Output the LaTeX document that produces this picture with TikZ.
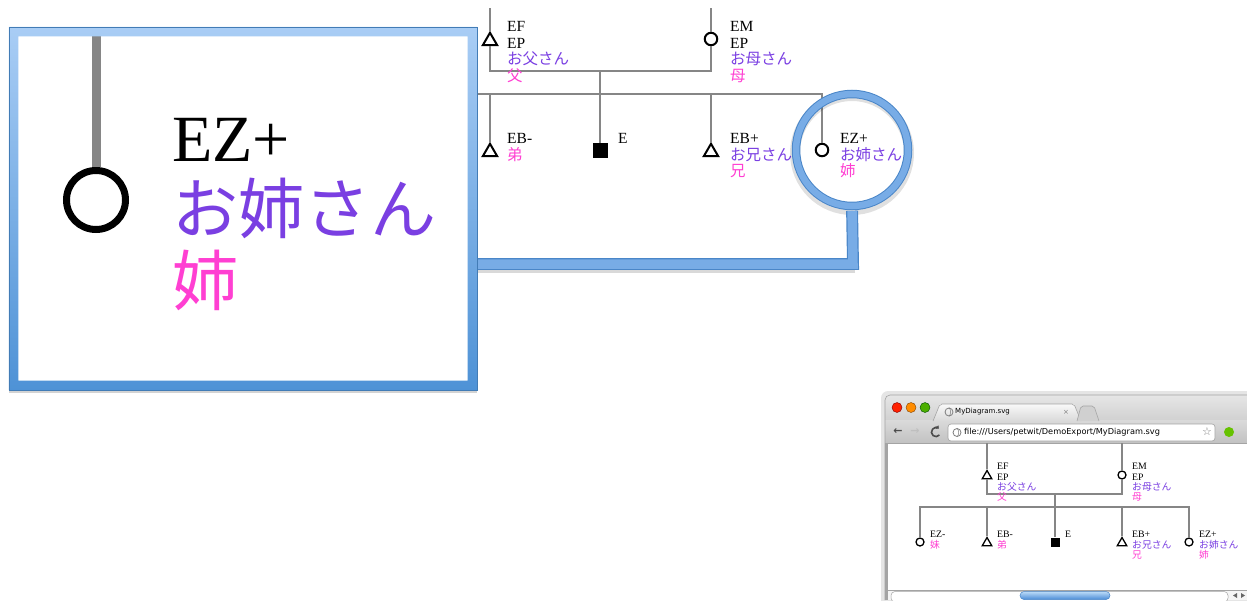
\documentclass[tikz,border=0pt]{standalone}
\usepackage{fontspec}
\setmainfont{Liberation Serif}
\newfontfamily\jp{Noto Sans CJK JP}
\newfontfamily\ui{DejaVu Sans}
\usetikzlibrary{arrows.meta, shapes.geometric, shadows}

\definecolor{kinGray}{HTML}{868686}
\definecolor{kanaPurple}{HTML}{7A3FE2}
\definecolor{kanjiPink}{HTML}{FF3FD2}
\definecolor{frameTop}{HTML}{A9CDF5}
\definecolor{frameBot}{HTML}{4E92D6}
\definecolor{lensEdge}{HTML}{4A86C8}
\definecolor{lensFill}{HTML}{78ACE6}
\definecolor{winTop}{HTML}{E6E6E6}
\definecolor{winMid}{HTML}{D0D0D0}
\definecolor{winBot}{HTML}{C2C2C2}
\definecolor{winLine}{HTML}{A4A4A4}
\definecolor{thumbTop}{HTML}{BBDBF8}
\definecolor{thumbBot}{HTML}{4A8BD6}

\newcommand\kana[1]{{\jp\color{kanaPurple}#1}}
\newcommand\kanji[1]{{\jp\color{kanjiPink}#1}}

\tikzset{
  kin/.style={draw=kinGray, line width=2.3},
  male/.style={regular polygon, regular polygon sides=3, draw=black, fill=white,
    line width=2, minimum size=16.5, inner sep=0},
  female/.style={circle, draw=black, fill=white, line width=2, minimum size=12.5, inner sep=0},
  ego/.style={rectangle, fill=black, minimum size=15, inner sep=0},
  lbl/.style={anchor=north west, inner sep=0, align=left, font=\fontsize{15.5}{16.7}\selectfont},
  % small copy inside the browser
  kinS/.style={draw=kinGray, line width=1.4},
  maleS/.style={male, line width=1.3, minimum size=11},
  femaleS/.style={female, line width=1.3, minimum size=8},
  egoS/.style={ego, minimum size=9},
  lblS/.style={lbl, font=\fontsize{9.8}{10.4}\selectfont},
  % magnified copy inside the callout
  kinL/.style={draw=kinGray, line width=9},
  femaleL/.style={female, line width=7, minimum size=59},
  lblL/.style={lbl, font=\fontsize{66}{72}\selectfont},
  % magnifier
  lens/.style={circle, minimum size=112, inner sep=0, draw=lensEdge, double=lensFill,
    double distance=6.5, line width=1},
  tube/.style={draw=lensEdge, double=lensFill, double distance=9.5, line width=1.2},
  callout/.style={rectangle, fill=white, minimum width=468, minimum height=363, inner sep=0,
    drop shadow={opacity=.35, shadow xshift=0pt, shadow yshift=-3pt}},
  % browser chrome
  uiTxt/.style={inner sep=0, font=\ui\fontsize{7}{8}\selectfont},
  urlTxt/.style={inner sep=0, anchor=west, font=\ui\fontsize{8.2}{9}\selectfont},
  globe/.style={circle, draw=gray, line width=.8, minimum size=8, inner sep=0},
}

\begin{document}
\begin{tikzpicture}[x=1pt, y=-1pt]
  \useasboundingbox (0,0) rectangle (1247,600);

  % family tree, normal size
  \coordinate (EFtop) at (490,8);
  \coordinate (EMtop) at (711,8);
  \coordinate (mar) at (600,71);
  \coordinate (sibL) at (400,94);
  \node[male]   (EF)  at (490,41) {};
  \node[female] (EM)  at (711,39) {};
  \node[male]   (EBm) at (490,152) {};
  \node[ego]    (E)   at (600,150.5) {};
  \node[male]   (EBp) at (711,152) {};
  \node[female] (EZp) at (822,150) {};

  \draw[kin] (EFtop) -- (EF);
  \draw[kin] (EMtop) -- (EM);
  \draw[kin] (EF) |- (mar) -| (EM);
  \draw[kin] (mar) -- (E);
  \draw[kin] (sibL) -| (EZp);
  \draw[kin] (EBm |- sibL) -- (EBm);
  \draw[kin] (EBp |- sibL) -- (EBp);

  \node[lbl] (EFlbl)  at (507,21) {EF\\EP\\\kana{お父さん}\\\kanji{父}};
  \node[lbl] (EMlbl)  at (730,21) {EM\\EP\\\kana{お母さん}\\\kanji{母}};
  \node[lbl] (EBmlbl) at (507,133) {EB-\\\kanji{弟}};
  \node[lbl] (Elbl)   at (618,133) {E};
  \node[lbl] (EBplbl) at (730,133) {EB+\\\kana{お兄さん}\\\kanji{兄}};
  \node[lbl] (EZplbl) at (840,133) {EZ+\\\kana{お姉さん}\\\kanji{姉}};

  % browser window
  \fill[black, opacity=.10, rounded corners=7] (881,391) rectangle (1260,610);
  \shade[top color=winTop, bottom color=winMid] (885,421) [rounded corners=5] |- (1260,395)
    [sharp corners] -- (1260,421) -- cycle;
  \shade[top color=winMid!80!white, bottom color=winBot] (885,420.5) rectangle (1260,443);
  \fill[winLine] (885,443) rectangle (888,600);
  \draw[winLine, line width=.6] (885,600) -- (885,400) arc[start angle=180, end angle=90, radius=5pt] -- (1260,395);
  \fill[white] (888,443) rectangle (1250,590);
  \draw[winLine, line width=.6] (888,443) -- (1250,443);

  % traffic lights
  \fill[red!75!orange, draw=red!50!black, line width=.4] (897,407.5) circle[radius=5pt];
  \fill[orange!90!yellow, draw=orange!50!black, line width=.4] (911,407.5) circle[radius=5pt];
  \fill[green!55!black!70!yellow, draw=green!30!black, line width=.4] (925,407.5) circle[radius=5pt];

  % tabs
  \shade[top color=white!95!gray, bottom color=winMid!80!white] (933,421) -- (940,404)
    -- (1074,404) -- (1081,421) -- cycle;
  \draw[winLine, line width=.6, rounded corners=2] (933,421) -- (940,404) -- (1074,404) -- (1081,421);
  \fill[winMid, draw=winLine, line width=.6, rounded corners=2] (1077,421) -- (1081,406)
    -- (1094,406) -- (1099,421);
  \node[globe] (tabIcon) at (949,412) {};
  \draw[gray, line width=.5] (tabIcon.north) to[bend left=40] (tabIcon.south);
  \node[uiTxt, anchor=west] (tabTxt) at (955,412) {MyDiagram.svg};
  \node[uiTxt, text=gray] (tabX) at (1066,412) {×};

  % toolbar
  \node[uiTxt, font=\ui\bfseries\fontsize{11}{11}\selectfont, text=black!70] (back) at (898,432) {←};
  \node[uiTxt, font=\ui\bfseries\fontsize{11}{11}\selectfont, text=black!25] (fwd) at (915,432) {→};
  \draw[black!70, line width=1.6, -{Triangle[length=2.6pt, width=4.5pt]}]
    (939.4,435) arc[start angle=-40, end angle=-310, radius=4.5pt];
  \node[rectangle, rounded corners=3, fill=white, draw=winLine, line width=.6,
    minimum width=267, minimum height=17, inner sep=0] (url) at (1081.5,432.5) {};
  \node[globe] (urlIcon) at (957,432.5) {};
  \draw[gray, line width=.5] (urlIcon.north) to[bend left=40] (urlIcon.south);
  \node[urlTxt] (urlTxt) at (964,432.5) {file:///Users/petwit/DemoExport/MyDiagram.svg};
  \node[uiTxt, font=\ui\fontsize{11}{11}\selectfont, text=gray] (star) at (1207,432) {☆};
  \fill[green!60!black!60!yellow] (1229,432) circle[radius=5pt];

  % scroll bar
  \fill[white!92!gray] (888,590) rectangle (1250,600);
  \draw[winLine, line width=.5] (888,590) -- (1250,590);
  \draw[winLine, fill=white, line width=.5, rounded corners=4] (891,591.5) rectangle (1228,602);
  \shade[top color=thumbTop, bottom color=thumbBot, draw=lensEdge, line width=.5, rounded corners=4]
    (1020,591.5) rectangle (1110,599.5);
  \fill[black!60] (1233,595.5) -- (1237,593) -- (1237,598) -- cycle;
  \fill[black!60] (1245,595.5) -- (1241,593) -- (1241,598) -- cycle;

  % family tree inside the browser
  \coordinate (bEFtop) at (987,443);
  \coordinate (bEMtop) at (1122,443);
  \coordinate (bmar) at (1055,494);
  \coordinate (bsib) at (1055,507);
  \node[maleS]   (bEF)  at (987,476) {};
  \node[femaleS] (bEM)  at (1122,475) {};
  \node[femaleS] (bEZm) at (920,542) {};
  \node[maleS]   (bEBm) at (987,543) {};
  \node[egoS]    (bE)   at (1055,542) {};
  \node[maleS]   (bEBp) at (1122,543) {};
  \node[femaleS] (bEZp) at (1189,542) {};

  \draw[kinS] (bEFtop) -- (bEF);
  \draw[kinS] (bEMtop) -- (bEM);
  \draw[kinS] (bEF) |- (bmar) -| (bEM);
  \draw[kinS] (bmar) -- (bE);
  \draw[kinS] (bEZm) |- (bsib) -| (bEZp);
  \draw[kinS] (bEBm |- bsib) -- (bEBm);
  \draw[kinS] (bEBp |- bsib) -- (bEBp);

  \node[lblS] (bEFlbl)  at (997,463) {EF\\EP\\\kana{お父さん}\\\kanji{父}};
  \node[lblS] (bEMlbl)  at (1132,463) {EM\\EP\\\kana{お母さん}\\\kanji{母}};
  \node[lblS] (bEZmlbl) at (930,531) {EZ-\\\kanji{妹}};
  \node[lblS] (bEBmlbl) at (997,531) {EB-\\\kanji{弟}};
  \node[lblS] (bElbl)   at (1065,531) {E};
  \node[lblS] (bEBplbl) at (1132,531) {EB+\\\kana{お兄さん}\\\kanji{兄}};
  \node[lblS] (bEZplbl) at (1199,531) {EZ+\\\kana{お姉さん}\\\kanji{姉}};

  % magnifier and its tube
  \coordinate (tubeBend) at (853,264);
  \coordinate (tubeEnd) at (470,264);
  \draw[black, opacity=.12, line width=10] (852,153) circle[radius=57pt];
  \node[lens] (lens) at (852,150) {};
  \draw[black, opacity=.15, line width=12] ([shift={(2,3)}]tubeBend) -- ([shift={(0,3)}]tubeEnd);
  \draw[tube, shorten <=4.3pt] (lens.south) -- (tubeBend) -- (tubeEnd);

  % callout
  \node[callout] (callout) at (243,208.5) {};
  \coordinate (zTop) at (96,36);
  \node[femaleL] (zEZ) at (96,200) {};
  \draw[kinL] (zTop) -- (zEZ);
  \node[lblL] (zEZlbl) at (172,118) {EZ+\\\kana{お姉さん}\\\kanji{姉}};
  \shade[top color=frameTop, bottom color=frameBot, even odd rule]
    (callout.north west) rectangle (callout.south east)
    ([shift={(9.5,9.5)}]callout.north west) rectangle ([shift={(-9.5,-9.5)}]callout.south east);
  \draw[frameBot!85!black, line width=.5] (callout.north west) rectangle (callout.south east);

\end{tikzpicture}
\end{document}
